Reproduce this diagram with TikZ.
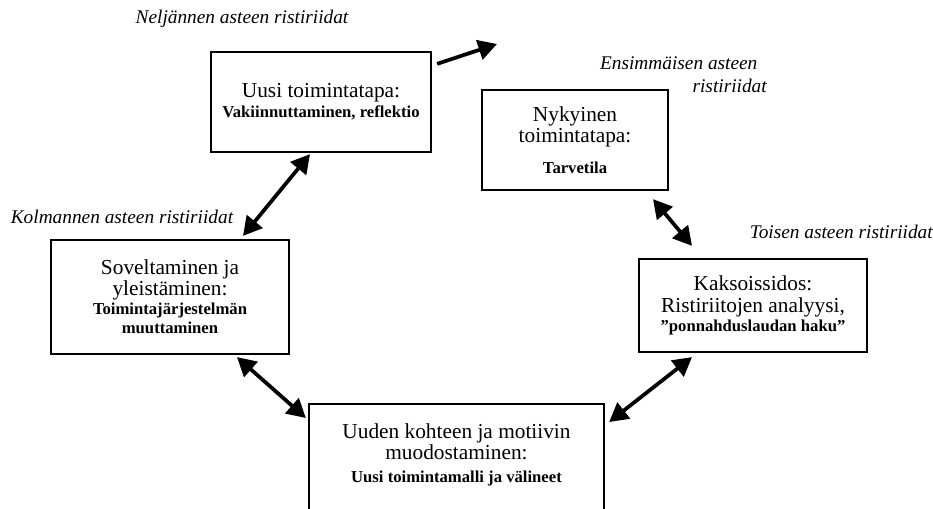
\documentclass[tikz,border=0pt]{standalone}
\usepackage{fontspec}
\setmainfont{Liberation Serif}
\usetikzlibrary{arrows.meta,calc}

\tikzset{
  stage/.style={draw, line width=1.7pt, inner sep=0pt, align=center,
    font=\fontsize{16}{16}\selectfont},
  stagetext/.style={inner sep=0pt, align=center, font=\fontsize{16}{16}\selectfont},
  degree/.style={font=\fontsize{14.5}{17}\selectfont\itshape, inner sep=0pt},
  link/.style={line width=2.8pt,
    {Triangle[length=14pt,width=15pt]}-{Triangle[length=14pt,width=15pt]}},
  push/.style={line width=2.8pt, -{Triangle[length=14pt,width=15pt]}},
}
\newcommand{\subtext}{\fontsize{12.5}{14}\selectfont\bfseries}

\begin{document}
\begin{tikzpicture}[x=0.75pt,y=-0.75pt]
  \useasboundingbox (0,0) rectangle (933,509);

  % stages of the cycle
  \node[stage, minimum width=220*0.75pt, minimum height=100*0.75pt] (b1) at (321,102)
    {Uusi toimintatapa:\\[-1pt]\subtext Vakiinnuttaminen, reflektio};
  \node[stage, minimum width=186*0.75pt, minimum height=100*0.75pt] (b2) at (575,140)
    {Nykyinen\\toimintatapa:\\[7pt]\subtext Tarvetila};
  \node[stage, minimum width=228*0.75pt, minimum height=93*0.75pt] (b3) at (753,305.5)
    {Kaksoissidos:\\Ristiriitojen analyysi,\\[-1.5pt]\subtext ”ponnahduslaudan haku”};
  \node[stage, minimum width=238*0.75pt, minimum height=114*0.75pt] (b4) at (170,297)
    {Soveltaminen ja\\yleistäminen:\\[-2pt]\subtext Toimintajärjestelmän\\[-1.5pt]\subtext muuttaminen};
  \node[stage, minimum width=295*0.75pt, minimum height=140*0.75pt, anchor=north] (b5) at (456.5,403) {};
  \node[stagetext] (b5t) at (456.5,455)
    {Uuden kohteen ja motiivin\\muodostaminen:\\[1pt]\subtext Uusi toimintamalli ja välineet};

  % contradiction labels
  \node[degree] (l4) at (242,19) {Neljännen asteen ristiriidat};
  \node[degree, align=right, anchor=east] (l1) at (767,75)
    {Ensimmäisen asteen\hspace*{7pt}\\ristiriidat};
  \node[degree, anchor=east] (l2) at (933,232) {Toisen asteen ristiriidat};
  \node[degree] (l3) at (122,217) {Kolmannen asteen ristiriidat};

  % connectors
  \coordinate (out) at (497,44);
  \draw[push] ($(b1.north east)+(5,13)$) -- (out);
  \draw[link] ($(b1.south)+(-11,1)$) -- ($(b4.north)+(73,-3)$);
  \draw[link] ($(b2.south)+(78,8)$) -- ($(b3.north)+(-61,-12)$);
  \draw[link] ($(b4.south)+(67,2)$) -- ($(b5.north west)+(-2,15)$);
  \draw[link] ($(b3.south)+(-61,4)$) -- ($(b5.north east)+(4,19)$);
\end{tikzpicture}
\end{document}
